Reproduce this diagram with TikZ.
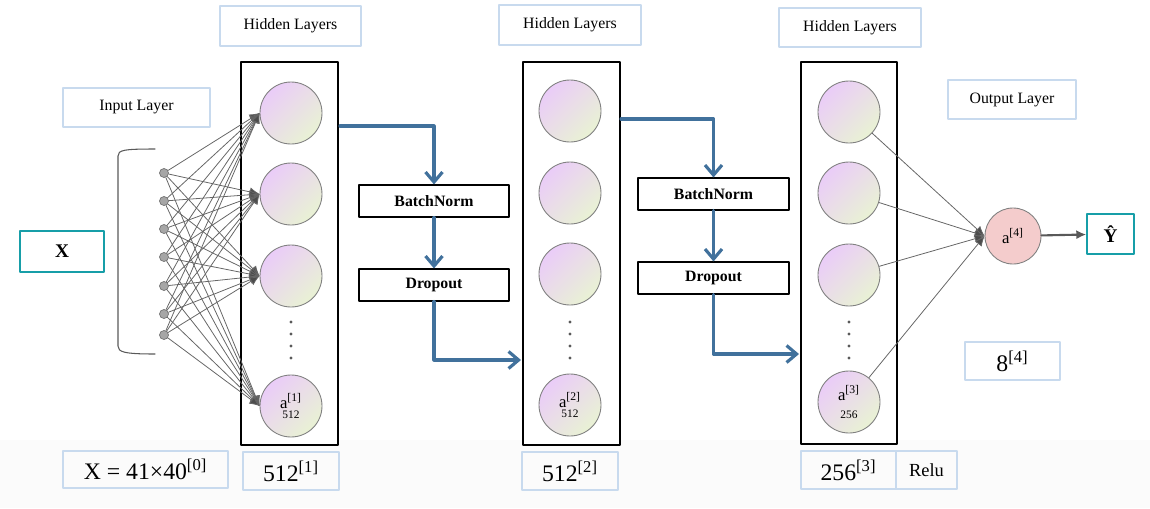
\documentclass[tikz,border=0pt]{standalone}
\usepackage{fontspec}
\setmainfont{Liberation Serif}
\usetikzlibrary{arrows.meta}
\definecolor{flowblue}{RGB}{65,113,156}
\definecolor{tealedge}{RGB}{23,158,168}
\definecolor{paleedge}{RGB}{200,218,238}
\definecolor{neuronpink}{RGB}{234,204,248}
\definecolor{neurongreen}{RGB}{233,242,212}
\definecolor{outpink}{RGB}{244,204,204}
\newcommand{\unitpx}{0.02cm}

\begin{document}
\begin{tikzpicture}[
  x=0.02cm,
  y=-0.02cm,
  line cap=round,
  line join=round,
  labelbox/.style={draw=paleedge,line width=0.6pt,inner sep=0pt,font=\fontsize{9}{10}\selectfont},
  bigtext/.style={font=\fontsize{13.5}{15}\selectfont},
  tealbox/.style={draw=tealedge,line width=0.8pt,inner sep=0pt,font=\fontsize{11}{12}\selectfont\bfseries},
  opbox/.style={draw=black,line width=0.6pt,inner sep=0pt,minimum width=150*\unitpx,
    minimum height=32*\unitpx,font=\fontsize{9}{10}\selectfont\bfseries},
  layerframe/.style={draw=black,fill=white,line width=0.7pt,inner sep=0pt,
    minimum width=97*\unitpx,minimum height=383*\unitpx},
  neuron/.style={circle,draw=black!50,line width=0.5pt,inner sep=0pt,minimum size=62*\unitpx,
    top color=neuronpink,bottom color=neurongreen,shading angle=45,align=center,
    font=\fontsize{9.5}{8}\selectfont},
  inputdot/.style={circle,draw=black!55,fill=black!35,line width=0.4pt,inner sep=0pt,
    minimum size=9*\unitpx},
  link/.style={draw=black!60,line width=0.45pt,-{Latex[length=2mm,width=1.8mm,fill=black!70]}},
  flow/.style={draw=flowblue,line width=1.8pt,-{Straight Barb[length=2mm,width=3.4mm]}}
]
  \useasboundingbox (0,0) rectangle (1150,508);

  % Pale strip behind the size labels
  \fill[black!1.5] (0,440) rectangle (1150,508);

  % Layer titles
  \node[labelbox,minimum width=147*\unitpx,minimum height=39*\unitpx] (inputtitle) at (136.5,107.5) {Input Layer};
  \node[labelbox,minimum width=141*\unitpx,minimum height=40*\unitpx] (hidtitleone) at (290.5,26) {Hidden Layers};
  \node[labelbox,minimum width=142*\unitpx,minimum height=40*\unitpx] (hidtitletwo) at (570,25) {Hidden Layers};
  \node[labelbox,minimum width=142*\unitpx,minimum height=39*\unitpx] (hidtitlethree) at (850,27.5) {Hidden Layers};
  \node[labelbox,minimum width=128*\unitpx,minimum height=39*\unitpx] (outtitle) at (1012,99.5) {Output Layer};

  % Input X and its bracket of features
  \node[tealbox,minimum width=84*\unitpx,minimum height=41*\unitpx] (xin) at (62,251.5) {X};
  \draw[black!65,line width=0.6pt] (155,149) .. controls (124,149) and (118,150) .. (118,156)
    -- (118,346) .. controls (118,352) and (124,354) .. (155,354);
  \foreach \y [count=\i] in {173,201,229,257,286,314,335} {
    \node[inputdot] (in\i) at (164,\y) {};
  }

  % Hidden layer frames
  \node[layerframe] (hidone) at (289.5,253.5) {};
  \node[layerframe] (hidtwo) at (571.5,253.5) {};
  \node[layerframe,minimum width=96*\unitpx,minimum height=382*\unitpx] (hidthree) at (849,253) {};

  % Neurons of the three hidden layers
  \foreach \y [count=\j] in {113,194,276} {
    \node[neuron] (hone\j) at (291,\y) {};
  }
  \node[neuron] (hone4) at (291,406) {a\textsuperscript{[1]}\\[-2pt]{\fontsize{6.5}{6}\selectfont 512}};
  \foreach \y [count=\j] in {111,193,274} {
    \node[neuron] (htwo\j) at (570,\y) {};
  }
  \node[neuron] (htwo4) at (570,405) {a\textsuperscript{[2]}\\[-2pt]{\fontsize{6.5}{6}\selectfont 512}};
  \foreach \y [count=\j] in {112,193,275} {
    \node[neuron] (hthree\j) at (849,\y) {};
  }
  \node[neuron] (hthree4) at (849,402) {a\textsuperscript{[3]}\\[2pt]{\fontsize{6.5}{6}\selectfont 256}};

  % Vertical dots for the omitted neurons
  \foreach \x in {291,570,849} {
    \foreach \y in {322,334,346,358} {
      \fill[black!65] (\x,\y) circle (0.9pt);
    }
  }

  % Fully connected input to first hidden layer
  \foreach \i in {1,...,7} {
    \foreach \j in {1,...,4} {
      \draw[link] (in\i) -- (hone\j.west);
    }
  }

  % BatchNorm and Dropout between the hidden layers
  \node[opbox] (bnone) at (434,201) {BatchNorm};
  \node[opbox] (dropone) at (434,285) {Dropout};
  \node[opbox,minimum width=151*\unitpx] (bntwo) at (713.5,194) {BatchNorm};
  \node[opbox,minimum width=151*\unitpx] (droptwo) at (713.5,278) {Dropout};

  \coordinate (flowonestart) at (340,126);
  \coordinate (flowoneend) at (521,360);
  \coordinate (flowtwostart) at (621,119);
  \coordinate (flowtwoend) at (799,354);
  \draw[flow] (flowonestart) -| (bnone.north);
  \draw[flow] (bnone) -- (dropone);
  \draw[flow] (dropone.south) |- (flowoneend);
  \draw[flow] (flowtwostart) -| (bntwo.north);
  \draw[flow] (bntwo) -- (droptwo);
  \draw[flow] (droptwo.south) |- (flowtwoend);

  % Output neuron and prediction
  \node[circle,draw=black!50,fill=outpink,line width=0.5pt,inner sep=0pt,minimum size=56*\unitpx,
    font=\fontsize{9.5}{8}\selectfont] (outn) at (1013,236) {a\textsuperscript{[4]}};
  \foreach \j in {1,...,4} {
    \draw[link] (hthree\j) -- (outn.west);
  }
  \node[tealbox,minimum width=47*\unitpx,minimum height=40*\unitpx] (yhat) at (1110.5,234) {Ŷ};
  \draw[draw=black!65,line width=1.2pt,-{Latex[length=2mm,width=1.8mm]}] (outn) -- (yhat);

  % Layer sizes
  \node[labelbox,bigtext,minimum width=95*\unitpx,minimum height=38*\unitpx] (sizeout) at (1012.5,361) {8\textsuperscript{[4]}};
  \node[labelbox,bigtext,minimum width=165*\unitpx,minimum height=37*\unitpx] (sizein) at (145.5,469.5) {X = 41×40\textsuperscript{[0]}};
  \node[labelbox,bigtext,minimum width=96*\unitpx,minimum height=38*\unitpx] (sizeone) at (291,471) {512\textsuperscript{[1]}};
  \node[labelbox,bigtext,minimum width=96*\unitpx,minimum height=38*\unitpx] (sizetwo) at (570,471) {512\textsuperscript{[2]}};
  \node[labelbox,bigtext,minimum width=95*\unitpx,minimum height=38*\unitpx] (sizethree) at (848.5,470) {256\textsuperscript{[3]}};
  \node[labelbox,font=\fontsize{10.5}{12}\selectfont,minimum width=61*\unitpx,minimum height=38*\unitpx] (relu) at (926.5,470) {Relu};

\end{tikzpicture}
\end{document}
